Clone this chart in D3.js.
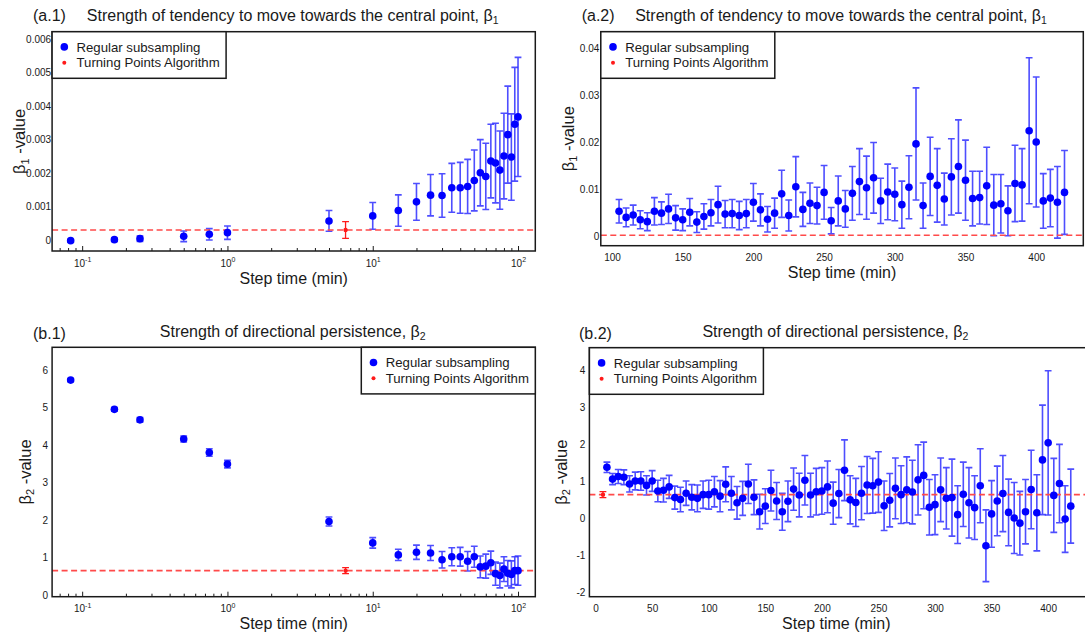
<!DOCTYPE html>
<html>
<head>
<meta charset="utf-8">
<script src="https://cdn.jsdelivr.net/npm/d3@7"></script>
<style>
  body { margin: 0; background: #fff; }
  svg { display: block; }
</style>
</head>
<body>
<svg id="chart" width="1085" height="636"></svg>
<script>
// ---------------- data ----------------
// step times (min): sub-minute sampling plus 5-min grid
const stepShort = [1/12, 1/6, 1/4, 1/2, 3/4, 1, 5];
const stepLong = [
  10,15,20,25,30,35,40,45,50,55,60,65,70,75,80,85,90,95,100,
  105,110,115,120,125,130,135,140,145,150,155,160,165,170,175,180,185,190,195,200,
  205,210,215,220,225,230,235,240,245,250,255,260,265,270,275,280,285,290,295,300,
  305,310,315,320,325,330,335,340,345,350,355,360,365,370,375,380,385,390,395,400,
  405,410,415,420
];

// beta1 estimates (regular subsampling) and half-width of error bars
const beta1Short    = [-0.00002, 0.00001, 0.00004, 0.00011, 0.00017, 0.00022, 0.00057];
const beta1ShortErr = [0.00004, 0.00005, 0.00008, 0.00016, 0.00017, 0.00020, 0.00031];
const beta1Long = [
  0.00072,0.00088,0.00114,0.00134,0.00133,0.00156,0.00156,0.00160,0.00178,0.00201,0.00190,0.00236,0.00230,0.00209,0.00251,0.00315,0.00248,0.00346,0.00368,
  0.0054,0.0041,0.0046,0.0036,0.0032,0.0054,0.0050,0.0059,0.0040,0.0036,0.0052,0.0031,0.0043,0.0051,0.0068,0.0048,0.0049,0.0045,0.0049,0.0073,
  0.0057,0.0037,0.0050,0.0091,0.0045,0.0106,0.0058,0.0071,0.0066,0.0094,0.0034,0.0076,0.0059,0.0092,0.0117,0.0104,0.0125,0.0076,0.0095,0.0090,
  0.0068,0.0105,0.0197,0.0066,0.0128,0.0109,0.0080,0.0127,0.0149,0.0120,0.0081,0.0083,0.0108,0.0067,0.0070,0.0055,0.0113,0.0110,0.0225,0.0201,
  0.0076,0.0082,0.0073,0.0094
];
const beta1LongErr = [
  0.00040,0.00047,0.00055,0.00062,0.00065,0.00073,0.00076,0.00081,0.00091,0.00099,0.00099,0.00110,0.00119,0.00117,0.00128,0.00145,0.00129,0.00170,0.00178,
  0.0025,0.0020,0.0021,0.0019,0.0019,0.0029,0.0024,0.0031,0.0026,0.0023,0.0029,0.0022,0.0027,0.0028,0.0039,0.0029,0.0030,0.0030,0.0030,0.0040,
  0.0034,0.0027,0.0032,0.0050,0.0033,0.0064,0.0036,0.0043,0.0039,0.0057,0.0028,0.0053,0.0039,0.0057,0.0070,0.0067,0.0075,0.0048,0.0059,0.0056,
  0.0050,0.0067,0.0119,0.0048,0.0083,0.0078,0.0055,0.0081,0.0099,0.0085,0.0058,0.0056,0.0082,0.0065,0.0062,0.0053,0.0081,0.0077,0.0155,0.0138,
  0.0058,0.0061,0.0076,0.0089
];

// beta2 estimates (regular subsampling) and half-width of error bars
const beta2Short    = [5.73, 4.95, 4.67, 4.16, 3.80, 3.49, 1.96];
const beta2ShortErr = [0.04, 0.05, 0.06, 0.08, 0.10, 0.10, 0.12];
const beta2Long = [
  1.39,1.07,1.14,1.12,0.94,1.02,1.02,0.90,1.02,0.75,0.77,0.86,0.57,0.52,0.69,0.58,0.55,0.65,0.65,
  0.73,0.61,0.93,0.69,0.43,0.55,0.94,0.58,0.19,0.34,0.76,0.48,0.19,0.47,0.80,0.64,1.04,0.64,0.73,0.75,
  0.86,0.42,0.68,1.31,0.51,0.44,0.69,0.91,0.89,0.99,0.35,0.50,0.82,0.65,0.78,0.72,1.05,1.17,0.31,0.38,
  0.78,0.55,0.57,0.11,0.66,0.43,0.30,0.89,-0.73,0.13,0.48,0.68,0.17,0.02,-0.12,0.19,0.79,0.16,1.59,2.05,
  0.63,0.95,-0.01,0.34
];
const beta2LongErr = [
  0.14,0.15,0.19,0.20,0.22,0.24,0.25,0.26,0.28,0.29,0.32,0.31,0.31,0.33,0.33,0.34,0.36,0.37,0.39,
  0.41,0.42,0.47,0.45,0.44,0.46,0.53,0.47,0.47,0.47,0.55,0.50,0.50,0.55,0.57,0.59,0.67,0.59,0.63,0.63,
  0.70,0.57,0.65,0.82,0.65,0.65,0.72,0.77,0.74,0.82,0.67,0.72,0.82,0.78,0.89,0.86,0.95,0.90,0.75,0.81,
  0.86,0.83,1.04,0.78,0.87,0.95,0.86,1.00,0.97,0.90,0.94,1.03,0.90,0.96,0.86,0.87,1.06,1.03,1.48,1.95,
  1.00,1.06,0.90,1.00
];

// Turning Points Algorithm estimates (single effective step time)
const tpaStep = 6.5;
const tpaBeta1 = 0.0003, tpaBeta1Err = 0.00025;
const tpaBeta2 = 0.65,   tpaBeta2Err = 0.08;

// tick values and labels
const yTicksA1 = [0, 0.001, 0.002, 0.003, 0.004, 0.005, 0.006];
const yLabelsA1 = ["0", "0.001", "0.002", "0.003", "0.004", "0.005", "0.006"];
const yTicksA2 = [0, 0.01, 0.02, 0.03, 0.04];
const yLabelsA2 = ["0", "0.01", "0.02", "0.03", "0.04"];
const yTicksB1 = [0, 1, 2, 3, 4, 5, 6];
const yLabelsB1 = ["0", "1", "2", "3", "4", "5", "6"];
const yTicksB2 = [-2, -1, 0, 1, 2, 3, 4];
const yLabelsB2 = ["-2", "-1", "0", "1", "2", "3", "4"];
const xTicksA2 = [100, 150, 200, 250, 300, 350, 400];
const xTicksB2 = [0, 50, 100, 150, 200, 250, 300, 350, 400];
const legendLabels = ["Regular subsampling", "Turning Points Algorithm"];

// ---------------- drawing ----------------
const FONT = '"Liberation Sans", Arial, Helvetica, sans-serif';
const INK = "#1a1a1a";
const BLUE = "#0000ff";
const BAR = "#2f2fff";
const RED = "#ff1a1a";
const DASH = "#ff4a4a";

const svg = d3.select("#chart");
svg.append("rect").attr("width", 1085).attr("height", 636).attr("fill", "#fff");

const rows = (steps, vals, errs) => steps.map((t, i) => ({ t, v: vals[i], e: errs[i] }));
const beta1All = rows(stepShort, beta1Short, beta1ShortErr).concat(rows(stepLong, beta1Long, beta1LongErr));
const beta2All = rows(stepShort, beta2Short, beta2ShortErr).concat(rows(stepLong, beta2Long, beta2LongErr));

const panels = [
  {
    tag: "(a.1)", tagX: 33, tagY: 20.5,
    title: "Strength of tendency to move towards the central point, β", sub: "1", titleY: 20.5,
    box: { L: 52.1, R: 535.3, T: 31.7, B: 251 },
    xLog: true, xDomain: [0.0621, 131.5],
    yDomain: [-0.000329, 0.006227], yTicks: yTicksA1, yLabels: yLabelsA1, yPad: 1,
    points: beta1All.filter(d => d.t <= 100),
    tpa: { t: tpaStep, v: tpaBeta1, e: tpaBeta1Err },
    legend: "left", yLab: { x: 25, sub: "1" }, xLabY: 283.5
  },
  {
    tag: "(a.2)", tagX: 581.7, tagY: 20.5,
    title: "Strength of tendency to move towards the central point, β", sub: "1", titleY: 20.5,
    box: { L: 600.8, R: 1083.3, T: 31.7, B: 245.7 },
    xLog: false, xDomain: [92.1, 433.3], xTicks: xTicksA2,
    yDomain: [-0.00191, 0.04352], yTicks: yTicksA2, yLabels: yLabelsA2, yPad: 1.5,
    points: beta1All.filter(d => d.t >= 105),
    tpa: { t: tpaStep, v: tpaBeta1, e: tpaBeta1Err },
    legend: "left", yLab: { x: 573.5, sub: "1" }, xLabY: 277.5
  },
  {
    tag: "(b.1)", tagX: 33, tagY: 338.5,
    title: "Strength of directional persistence, β", sub: "2", titleY: 336.5,
    box: { L: 52.1, R: 535.3, T: 347.3, B: 596.7 },
    xLog: true, xDomain: [0.0621, 131.5],
    yDomain: [-0.045, 6.605], yTicks: yTicksB1, yLabels: yLabelsB1, yPad: 4,
    points: beta2All.filter(d => d.t <= 100),
    tpa: { t: tpaStep, v: tpaBeta2, e: tpaBeta2Err },
    legend: "right", yLab: { x: 30.5, sub: "2" }, xLabY: 629
  },
  {
    tag: "(b.2)", tagX: 579, tagY: 338.5,
    title: "Strength of directional persistence, β", sub: "2", titleY: 336.5,
    box: { L: 589.4, R: 1086.5, T: 347.7, B: 596.7 },
    xLog: false, xDomain: [-5.48, 433.9], xTicks: xTicksB2,
    yDomain: [-2.108, 4.622], yTicks: yTicksB2, yLabels: yLabelsB2, yPad: 4,
    points: beta2All.filter(d => d.t >= 10),
    tpa: { t: tpaStep, v: tpaBeta2, e: tpaBeta2Err },
    legend: "left", yLab: { x: 566.5, sub: "2" }, xLabY: 629
  }
];

function errPath(x, y, d, cap) {
  const cx = x(d.t), y0 = y(d.v - d.e), y1 = y(d.v + d.e);
  return `M${cx},${y0}V${y1}M${cx - cap},${y1}H${cx + cap}M${cx - cap},${y0}H${cx + cap}`;
}

function drawPanel(p) {
  const { L, R, T, B } = p.box;
  const x = (p.xLog ? d3.scaleLog() : d3.scaleLinear()).domain(p.xDomain).range([L, R]);
  const y = d3.scaleLinear().domain(p.yDomain).range([B, T]);
  const g = svg.append("g");

  // y axis labels (no tick marks)
  const yAxis = d3.axisLeft(y).tickValues(p.yTicks).tickSize(0).tickPadding(p.yPad)
    .tickFormat((d, i) => p.yLabels[i]);
  const ya = g.append("g").attr("transform", `translate(${L},0)`).call(yAxis);
  ya.select(".domain").remove();
  ya.selectAll("text").attr("font-family", FONT).attr("font-size", 10).attr("fill", INK);

  // x axis
  if (p.xLog) {
    const ticks = x.ticks();
    const isMajor = d => Math.abs(Math.log10(d) - Math.round(Math.log10(d))) < 1e-9;
    const xAxis = d3.axisBottom(x).tickValues(ticks).tickSizeInner(-3).tickSizeOuter(0)
      .tickPadding(9).tickFormat(() => "");
    const xa = g.append("g").attr("transform", `translate(0,${B})`).call(xAxis);
    xa.select(".domain").remove();
    xa.selectAll(".tick line").attr("stroke", INK).attr("stroke-width", 1)
      .attr("y2", d => isMajor(d) ? -5 : -3);
    xa.selectAll(".tick text").each(function (d) {
      if (!isMajor(d)) return;
      const t = d3.select(this).attr("dy", null).attr("y", 15.5)
        .attr("font-family", FONT).attr("font-size", 10).attr("fill", INK);
      t.append("tspan").text("10");
      t.append("tspan").attr("font-size", 7).attr("dy", -4.5).text(String(Math.round(Math.log10(d))));
    });
  } else {
    const xAxis = d3.axisBottom(x).tickValues(p.xTicks).tickSize(0).tickPadding(9)
      .tickFormat(d => String(d));
    const xa = g.append("g").attr("transform", `translate(0,${B})`).call(xAxis);
    xa.select(".domain").remove();
    xa.selectAll("text").attr("dy", null).attr("y", 15.5)
      .attr("font-family", FONT).attr("font-size", 10).attr("fill", INK);
  }

  // error bars of regular subsampling
  g.append("g").selectAll("path").data(p.points).join("path")
    .attr("d", d => errPath(x, y, d, 3.4))
    .attr("fill", "none").attr("stroke", BAR).attr("stroke-opacity", 0.85).attr("stroke-width", 1.6);

  // reference level from the Turning Points Algorithm
  g.append("line")
    .attr("x1", L).attr("x2", R).attr("y1", y(p.tpa.v)).attr("y2", y(p.tpa.v))
    .attr("stroke", DASH).attr("stroke-width", 1.6).attr("stroke-dasharray", "6,3.5");

  // estimates
  g.append("g").selectAll("circle").data(p.points).join("circle")
    .attr("cx", d => x(d.t)).attr("cy", d => y(d.v)).attr("r", 3.8).attr("fill", BLUE);

  // Turning Points Algorithm estimate
  const [d0, d1] = x.domain();
  if (p.tpa.t >= d0 && p.tpa.t <= d1) {
    g.append("path").attr("d", errPath(x, y, p.tpa, 3.4))
      .attr("fill", "none").attr("stroke", RED).attr("stroke-width", 1.3);
    g.append("circle").attr("cx", x(p.tpa.t)).attr("cy", y(p.tpa.v)).attr("r", 2.2).attr("fill", RED);
  }

  // frame
  g.append("rect").attr("x", L).attr("y", T).attr("width", R - L).attr("height", B - T)
    .attr("fill", "none").attr("stroke", INK).attr("stroke-width", 1.5);

  // legend
  const lw = 174, lh = 46.6;
  const lx = p.legend === "left" ? L : R - lw;
  const lg = g.append("g").attr("transform", `translate(${lx},${T})`);
  lg.append("rect").attr("width", lw).attr("height", lh)
    .attr("fill", "#fff").attr("stroke", INK).attr("stroke-width", 1.5);
  lg.append("circle").attr("cx", 12.2).attr("cy", 15.2).attr("r", 3.8).attr("fill", BLUE);
  lg.append("circle").attr("cx", 12.2).attr("cy", 31).attr("r", 2).attr("fill", RED);
  lg.selectAll("text").data(legendLabels).join("text")
    .attr("x", 24.4).attr("y", (d, i) => 20 + i * 15.8)
    .attr("font-family", FONT).attr("font-size", 13.2).attr("fill", INK).text(d => d);

  // panel tag and title
  svg.append("text").attr("x", p.tagX).attr("y", p.tagY)
    .attr("font-family", FONT).attr("font-size", 16).attr("fill", INK).text(p.tag);
  const tt = svg.append("text").attr("x", (L + Math.min(R, 1083.3)) / 2 - 1).attr("y", p.titleY)
    .attr("text-anchor", "middle").attr("font-family", FONT).attr("font-size", 16).attr("fill", INK);
  tt.append("tspan").text(p.title);
  tt.append("tspan").attr("font-size", 10.5).attr("dy", 3).text(p.sub);

  // axis titles
  const cx = (L + Math.min(R, 1083.3)) / 2;
  svg.append("text").attr("x", cx).attr("y", p.xLabY).attr("text-anchor", "middle")
    .attr("font-family", FONT).attr("font-size", 16).attr("fill", INK).text("Step time (min)");
  const cy = (T + B) / 2;
  const yl = svg.append("text").attr("transform", `translate(${p.yLab.x},${cy}) rotate(-90)`)
    .attr("text-anchor", "middle").attr("font-family", FONT).attr("font-size", 16.5).attr("fill", INK);
  yl.append("tspan").text("β");
  yl.append("tspan").attr("font-size", 11).attr("dy", 3.5).text(p.yLab.sub);
  yl.append("tspan").attr("dy", -3.5).text(" -value");
}

panels.forEach(drawPanel);
</script>
</body>
</html>
